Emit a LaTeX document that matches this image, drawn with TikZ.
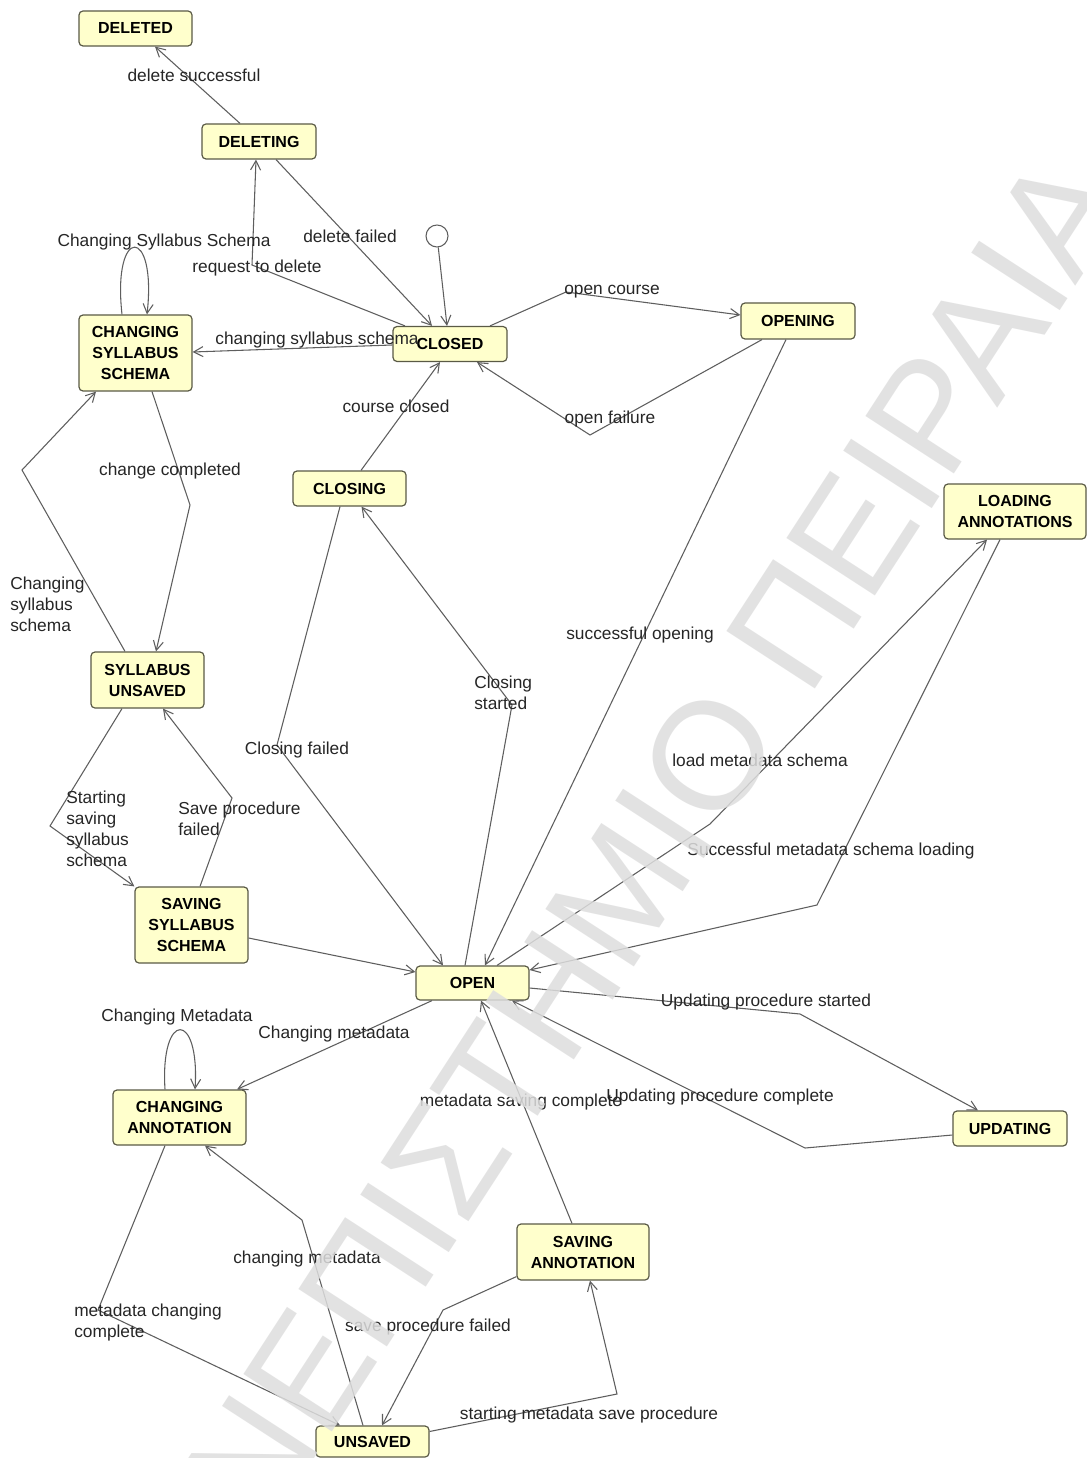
\documentclass[tikz,border=0pt]{standalone}
\usepackage{fontspec}
\setmainfont{Liberation Sans}
\usetikzlibrary{arrows.meta}
\definecolor{nodefill}{HTML}{FFFFCC}
\definecolor{nodeborder}{HTML}{5A5A46}
\definecolor{edgecol}{HTML}{5E5E5E}
\definecolor{wmark}{HTML}{DEDEDE}
\begin{document}
\begin{tikzpicture}[x=0.75pt,y=-0.75pt,
  state/.style={draw=nodeborder, fill=nodefill, rounded corners=3pt, line width=0.9pt,
    inner sep=0pt, align=center, font=\fontsize{12}{15.75}\selectfont\bfseries},
  wh/.style 2 args={minimum width=#1, minimum height=#2},
  lbl/.style={font=\fontsize{13}{15.75}\selectfont, text=black!85, inner sep=0pt},
  tr/.style={draw=edgecol, line width=0.8pt, -{Straight Barb[length=7pt,width=7.5pt]}}]
\fill[white] (0,0) rectangle (1087,1458);
\path[use as bounding box] (0,0) rectangle (1087,1458);

% states
\node[state, wh={84.75pt}{26.25pt}] (deleted) at (135.5,28.5) {DELETED};
\node[state, wh={85.5pt}{26.25pt}] (deleting) at (259,141.5) {DELETING};
\node[draw=edgecol, line width=0.8pt, circle, minimum size=16.5pt, inner sep=0pt] (init) at (437,236) {};
\node[state, wh={85.5pt}{26.25pt}] (closed) at (450,344) {CLOSED};
\node[state, wh={85.5pt}{27pt}] (opening) at (798,321) {OPENING};
\node[state, wh={84.75pt}{57pt}] (css) at (135.5,353) {CHANGING\\SYLLABUS\\SCHEMA};
\node[state, wh={84.75pt}{26.25pt}] (closing) at (349.5,488.5) {CLOSING};
\node[state, wh={106.5pt}{41.25pt}] (loading) at (1015,511.5) {LOADING\\ANNOTATIONS};
\node[state, wh={84.75pt}{42pt}] (su) at (147.5,680) {SYLLABUS\\UNSAVED};
\node[state, wh={84.75pt}{57pt}] (sss) at (191.5,925) {SAVING\\SYLLABUS\\SCHEMA};
\node[state, wh={84.75pt}{25.5pt}] (open) at (472.5,983) {OPEN};
\node[state, wh={99.75pt}{41.25pt}] (ca) at (179.5,1117.5) {CHANGING\\ANNOTATION};
\node[state, wh={85.5pt}{26.25pt}] (updating) at (1010,1128.5) {UPDATING};
\node[state, wh={99pt}{42pt}] (sa) at (583,1252) {SAVING\\ANNOTATION};
\node[state, wh={84.75pt}{23.25pt}] (unsaved) at (372.5,1441.5) {UNSAVED};

% transitions
\draw[tr] ([shift={(-19,0)}]deleting.north) -- ([shift={(19.5,0)}]deleted.south);
\draw[tr] ([shift={(-45,0)}]closed.north) -- (252,265) -- ([shift={(-3,0)}]deleting.south);
\draw[tr] ([shift={(17,0)}]deleting.south) -- ([shift={(-18,0)}]closed.north);
\draw[tr] (init) -- ([shift={(-3,0)}]closed.north);
\draw[tr] ([shift={(0,1)}]closed.west) -- ([shift={(0,-1)}]css.east);
\draw[tr] ([shift={(-13.5,0)}]css.north) .. controls (112,225) and (157,225) .. ([shift={(11.5,0)}]css.north);
\draw[tr] ([shift={(40,0)}]closed.north) -- (566,292) -- ([shift={(0,-6)}]opening.west);
\draw[tr] ([shift={(-36,0)}]opening.south) -- (590,435) -- ([shift={(27,0)}]closed.south);
\draw[tr] ([shift={(11.5,0)}]closing.north) -- ([shift={(-10,0)}]closed.south);
\draw[tr] ([shift={(16.5,0)}]css.south) -- (190,505) -- ([shift={(8.5,0)}]su.north);
\draw[tr] ([shift={(-22.5,0)}]su.north) -- (22,470) -- ([shift={(-39.5,0)}]css.south);
\draw[tr] ([shift={(-25.5,0)}]su.south) -- (50,826) -- (sss.north west);
\draw[tr] ([shift={(8.5,0)}]sss.north) -- (232,798) -- ([shift={(15.5,0)}]su.south);
\draw[tr] ([shift={(0,13)}]sss.east) -- ([shift={(0,-11)}]open.west);
\draw[tr] ([shift={(-9.5,0)}]closing.south) -- (277,745) -- ([shift={(-29.5,0)}]open.north);
\draw[tr] ([shift={(-7.5,0)}]open.north) -- (512,705) -- ([shift={(12,0)}]closing.south);
\draw[tr] ([shift={(-12,0)}]opening.south) -- ([shift={(12.5,0)}]open.north);
\draw[tr] ([shift={(24.5,0)}]open.north) -- (710,824) -- ([shift={(-28,0)}]loading.south);
\draw[tr] ([shift={(-15,0)}]loading.south) -- (817,905) -- ([shift={(0,-13)}]open.east);
\draw[tr] ([shift={(0,5)}]open.east) -- (800,1014) -- ([shift={(-32,0)}]updating.north);
\draw[tr] ([shift={(0,6.5)}]updating.west) -- (805,1148) -- ([shift={(39.5,0)}]open.south);
\draw[tr] ([shift={(-40.5,0)}]open.south) -- ([shift={(57.5,0)}]ca.north);
\draw[tr] ([shift={(-14.5,0)}]ca.north) .. controls (160,1010) and (200,1010) .. ([shift={(15.5,0)}]ca.north);
\draw[tr] ([shift={(-14.5,0)}]ca.south) -- (98,1310) -- ([shift={(-32.5,0)}]unsaved.north);
\draw[tr] ([shift={(-9.5,0)}]unsaved.north) -- (302,1220) -- ([shift={(25.5,0)}]ca.south);
\draw[tr] ([shift={(-11,0)}]sa.north) -- ([shift={(8.5,0)}]open.south);
\draw[tr] ([shift={(0,-4)}]sa.south west) -- (443,1310) -- ([shift={(9.5,0)}]unsaved.north);
\draw[tr] ([shift={(0,-10)}]unsaved.east) -- (617,1394) -- ([shift={(7,0)}]sa.south);

% labels
\node[lbl] (l1) at (194,75) {delete successful};
\node[lbl] (l2) at (257,268) {request to delete};
\node[lbl] (l3) at (350,236) {delete failed};
\node[lbl] (l5) at (317,340) {changing syllabus schema};
\node[lbl] (l6) at (164,242) {Changing Syllabus Schema};
\node[lbl] (l7) at (612,292) {open course};
\node[lbl] (l8) at (610,419) {open failure};
\node[lbl] (l9) at (396,406) {course closed};
\node[lbl] (l10) at (170,471) {change completed};
\node[lbl, anchor=west, align=left] (l11) at (10,604) {Changing\\syllabus\\schema};
\node[lbl, anchor=west, align=left] (l12) at (66,828.5) {Starting\\saving\\syllabus\\schema};
\node[lbl, anchor=west, align=left] (l13) at (178,818.5) {Save procedure\\failed};
\node[lbl] (l15) at (297,750) {Closing failed};
\node[lbl, anchor=west, align=left] (l16) at (474,692.5) {Closing\\started};
\node[lbl] (l17) at (640,635) {successful opening};
\node[lbl] (l18) at (760,760) {load metadata schema};
\node[lbl] (l19) at (831,851) {Successful metadata schema loading};
\node[lbl] (l20) at (766,1002) {Updating procedure started};
\node[lbl] (l21) at (720,1097) {Updating procedure complete};
\node[lbl] (l22) at (334,1034) {Changing metadata};
\node[lbl] (l23) at (177,1017) {Changing Metadata};
\node[lbl, anchor=west, align=left] (l24) at (74,1322.5) {metadata changing\\complete};
\node[lbl] (l25) at (307,1259) {changing metadata};
\node[lbl] (l26) at (521,1102) {metadata saving complete};
\node[lbl] (l27) at (428,1327) {save procedure failed};
\node[lbl] (l28) at (589,1415) {starting metadata save procedure};

% watermark
\node[rotate=57, font=\fontsize{115}{115}\selectfont, text=wmark, text opacity=0.85, inner sep=0pt] (wm) at (596,929) {ΠΑΝΕΠΙΣΤΗΜΙΟ ΠΕΙΡΑΙΑ};
\end{tikzpicture}
\end{document}
